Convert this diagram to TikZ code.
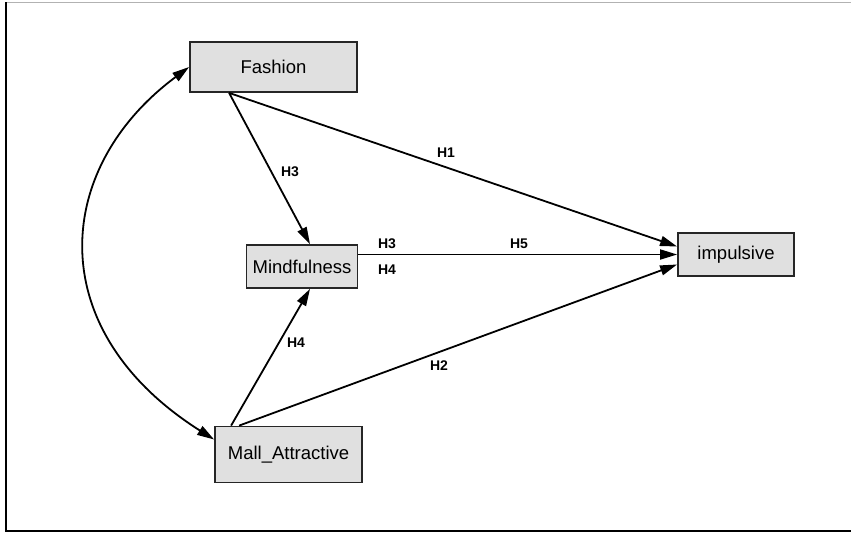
\documentclass[tikz,border=0pt]{standalone}
\usepackage{fontspec}
\setmainfont{Liberation Sans}
\usetikzlibrary{arrows.meta, positioning, calc}

\begin{document}
\begin{tikzpicture}[x=1pt, y=-1pt, >={Triangle[length=17pt, width=10pt]},
    var/.style={draw=black!85, line width=1.8pt, fill=black!12, inner sep=2pt,
                font=\fontsize{18.5}{20}\selectfont},
    lbl/.style={font=\fontsize{14}{15}\selectfont\bfseries, inner sep=0pt},
    path/.style={->, line width=1.8pt}]

\useasboundingbox (0, 0) rectangle (851, 533);

% ── Frame ────────────────────────────────────────────────────────
\draw[gray!60, line width=1.5pt] (6, 2.5) -- (851, 2.5);
\draw[line width=2pt] (6, 2) -- (6, 532);
\draw[line width=2pt] (6, 531) -- (851, 531);

% ── Variables ────────────────────────────────────────────────────
\node[var, minimum width=167pt, minimum height=50pt] (fashion) at (273.5, 67) {Fashion};
\node[var, minimum width=111pt, minimum height=43pt] (mind) at (302, 266.5) {Mindfulness};
\node[var, minimum width=147pt, minimum height=56pt] (mall) at (288.5, 454.5) {Mall\_Attractive};
\node[var, minimum width=116pt, minimum height=43pt] (impuls) at (736, 254.5) {impulsive};

% ── Paths ────────────────────────────────────────────────────────
\draw[path] ([xshift=40pt]fashion.south west) -- ([yshift=8pt]impuls.west);
\draw[path] ([xshift=40pt]fashion.south west) -- ([xshift=8pt]mind.north);
\draw[path] (mind.east |- impuls.west) -- (impuls.west);
\draw[path] ([xshift=17pt]mall.north west) -- ([xshift=8pt]mind.south);
\draw[path] ([xshift=25pt]mall.north west) -- ([yshift=-10pt]impuls.west);

% Covariance
\draw[<->, line width=1.8pt] (fashion.west)
    .. controls (53, 168) and (41, 330) .. ([yshift=15pt]mall.west);

% ── Labels ───────────────────────────────────────────────────────
\node[lbl] (h1) at (446, 153) {H1};
\node[lbl] (h3a) at (290, 172) {H3};
\node[lbl] (h3b) at (387, 244) {H3};
\node[lbl] (h5) at (519, 244) {H5};
\node[lbl] (h4a) at (387, 270) {H4};
\node[lbl] (h4b) at (296, 343) {H4};
\node[lbl] (h2) at (439, 366) {H2};

\end{tikzpicture}
\end{document}
